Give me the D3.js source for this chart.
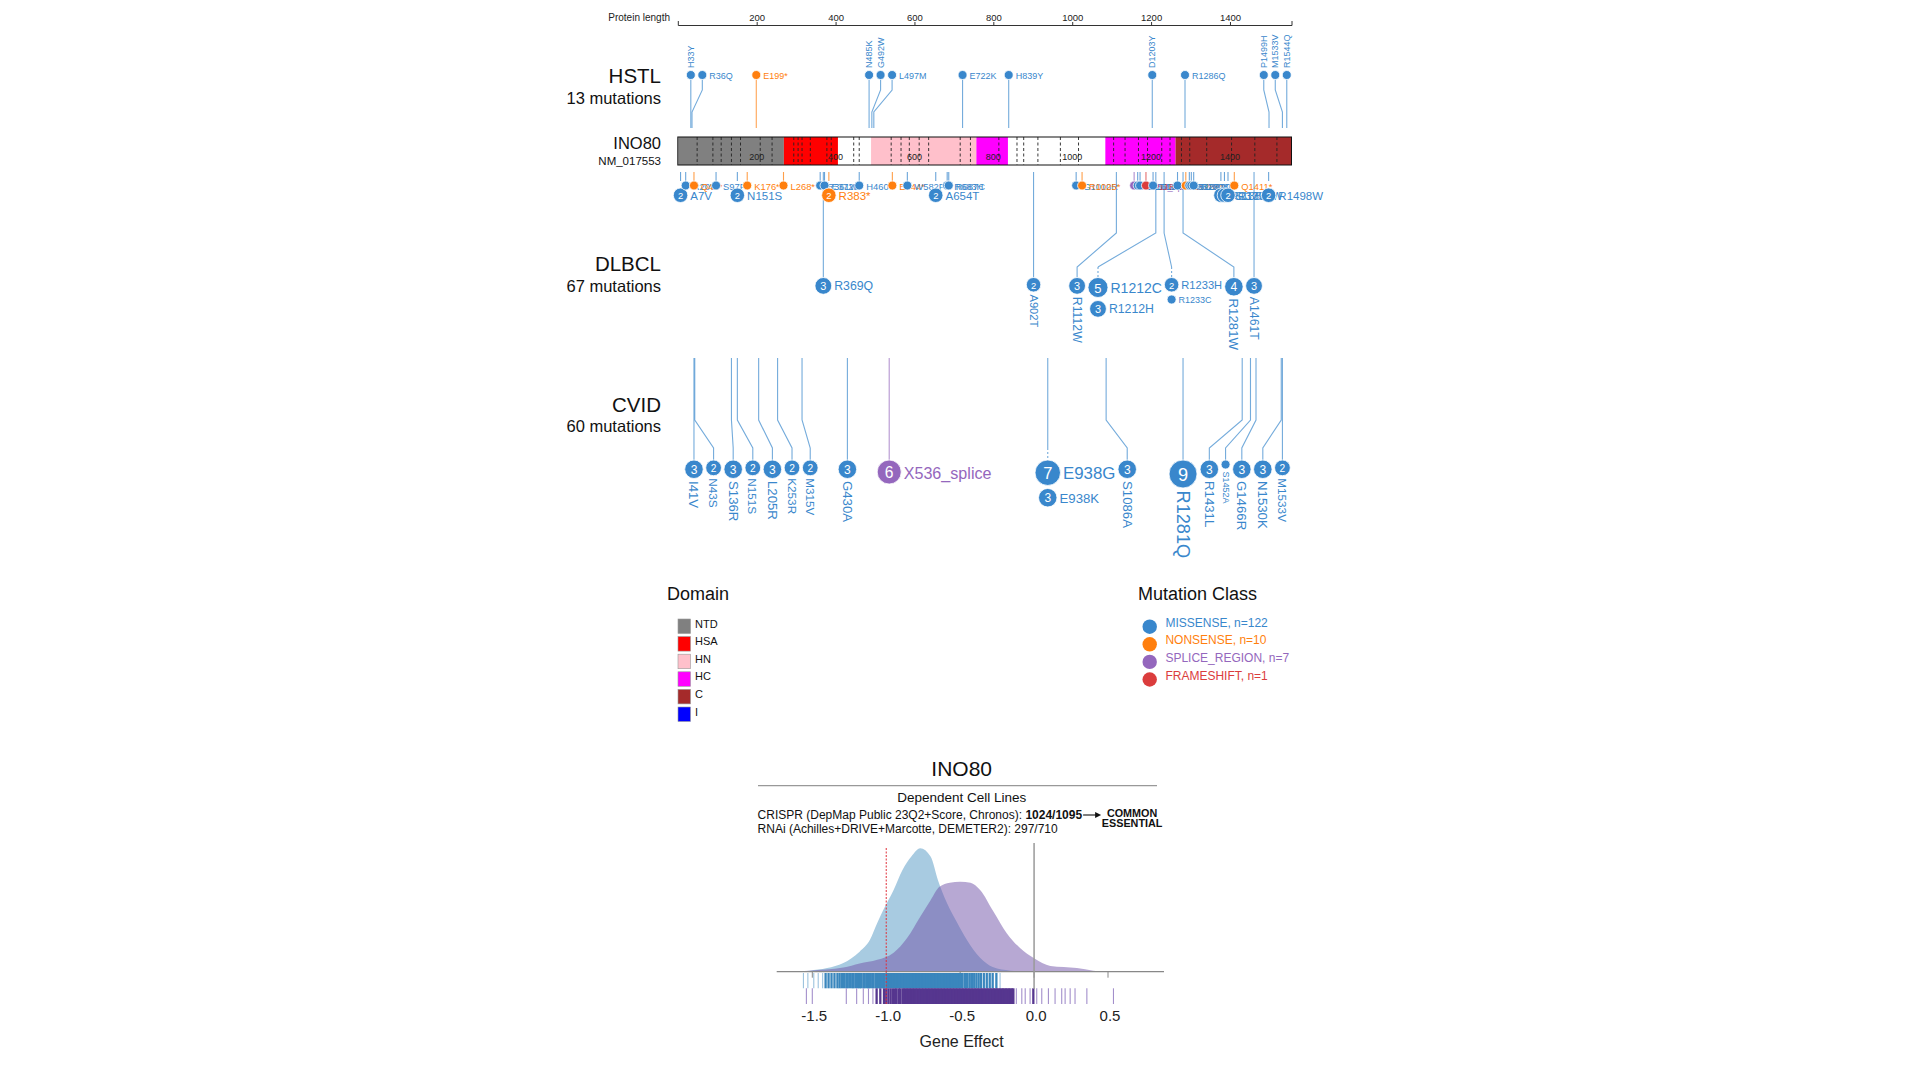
<!DOCTYPE html>
<html><head><meta charset="utf-8">
<script src="https://cdn.jsdelivr.net/npm/d3@7"></script>
<style>
body{margin:0;background:#fff;}
svg{display:block;}
text{font-family:"Liberation Sans",Arial,Helvetica,sans-serif;}
</style>
</head><body>
<svg id="c" width="1920" height="1080"></svg>
<script>
// ---------------- DATA ----------------
const proteinLength = 1556;
const axisTicks = [200, 400, 600, 800, 1000, 1200, 1400];
const domains = [["NTD",1,269],["HSA",269,406],["HN",490,757],["HC",757,837],["HC",1084,1262],["C",1262,1556]];
const domainLegend = ["NTD","HSA","HN","HC","C","I"];
const domainColors = ["#808080","#ff0000","#ffc0cb","#ff00ff","#a52a2a","#0000ff"];
const exonBoundaries = [49,89,110,136,159,209,239,294,305,315,336,378,389,446,460,541,566,587,612,636,716,742,
  814,860,877,913,970,1016,1105,1134,1168,1191,1227,1248,1277,1298,1341,1404,1463,1519];
const classNames = ["MISSENSE","NONSENSE","SPLICE_REGION","FRAMESHIFT"];
const classColors = ["#3987cc","#ff7f0e","#9467bd","#db3d3d"];
const M="MISSENSE", N="NONSENSE", S="SPLICE_REGION", F="FRAMESHIFT";

// [label, aa position, class, count, label direction]
const hstlMutations = [
 ["H33Y",33,M,1,"v"],["R36Q",36,M,1,"h"],["E199*",199,N,1,"h"],["N485K",485,M,1,"v"],
 ["G492W",492,M,1,"v"],["L497M",497,M,1,"h"],["E722K",722,M,1,"h"],["H839Y",839,M,1,"h"],
 ["D1203Y",1203,M,1,"v"],["R1286Q",1286,M,1,"h"],["P1499H",1499,M,1,"v"],["M1533V",1533,M,1,"v"],
 ["R1544Q",1544,M,1,"v"]];
const dlbclNearMutations = [
 ["A7V",7,M,2],["R20W",20,M,1],["Q41*",41,N,1],["S97F",97,M,1],["N151S",151,M,2],["K176*",176,N,1],
 ["L268*",268,N,1],["R361W",361,M,1],["E372K",372,M,1],["R383*",383,N,2],["H460Y",460,M,1],
 ["E544*",544,N,1],["W582F",582,M,1],["A654T",654,M,2],["R683H",683,M,1],["R687C",687,M,1],
 ["G1010R",1010,M,1],["R1025*",1025,N,1],["X1157_splice",1157,S,1],["R1166W",1166,M,1],
 ["D1172N",1172,M,1],["P1187fs",1187,F,1],["T1205M",1205,M,1],["R1267C",1267,M,1],["E1288*",1288,N,1],
 ["R1297Q",1297,M,1],["S1302L",1302,M,1],["R1308H",1308,M,1],["R1377C",1377,M,2],["S1386F",1386,M,2],
 ["R1395W",1395,M,2],["Q1411*",1411,N,1],["R1498W",1498,M,2]];
const dlbclMutations = [
 ["R369Q",369,M,3,"h"],["A902T",902,M,2,"v"],["R1112W",1112,M,3,"v"],["R1212C",1212,M,5,"h"],
 ["R1212H",1212,M,3,"h"],["R1233H",1233,M,2,"h"],["R1233C",1233,M,1,"h"],["R1281W",1281,M,4,"v"],
 ["A1461T",1461,M,3,"v"]];
const cvidMutations = [
 ["I41V",41,M,3,"v"],["N43S",43,M,2,"v"],["S136R",136,M,3,"v"],["N151S",151,M,2,"v"],["L205R",205,M,3,"v"],
 ["K253R",253,M,2,"v"],["M315V",315,M,2,"v"],["G430A",430,M,3,"v"],["X536_splice",536,S,6,"h"],
 ["E938G",938,M,7,"h"],["E938K",938,M,3,"h"],["S1086A",1086,M,3,"v"],["R1281Q",1281,M,9,"v"],
 ["R1431L",1431,M,3,"v"],["S1452A",1452,M,1,"v"],["G1466R",1466,M,3,"v"],["N1530K",1530,M,3,"v"],
 ["M1533V",1533,M,2,"v"]];

// gene effect density curves [gene effect, density]
const crisprDensity = [[-1.63,0],[-1.52,0.02],[-1.40,0.07],[-1.29,0.17],[-1.18,0.39],[-1.11,0.62],[-1.06,0.95],
 [-1.02,1.20],[-0.95,1.59],[-0.89,1.98],[-0.83,2.24],[-0.77,2.40],[-0.70,2.24],[-0.65,1.78],[-0.59,1.34],
 [-0.52,0.95],[-0.455,0.62],[-0.365,0.27],[-0.28,0.09],[-0.16,0.02],[-0.03,0]];
const rnaiDensity = [[-1.74,0],[-1.52,0.02],[-1.29,0.08],[-1.18,0.16],[-1.06,0.23],[-0.95,0.37],[-0.86,0.65],
 [-0.77,1.07],[-0.70,1.39],[-0.64,1.65],[-0.57,1.73],[-0.50,1.75],[-0.43,1.73],[-0.365,1.59],[-0.275,1.17],
 [-0.185,0.75],[-0.095,0.46],[0.0,0.26],[0.11,0.11],[0.29,0.07],[0.40,0.02],[0.51,0]];
const crisprRug = [-1.56,-1.53,-1.49,-1.46,-1.43,-1.41,-1.39,-1.37,-1.35,-1.33,-1.315,-1.30,-1.285,-1.27,-1.26,
 -1.245,-1.23,-1.22,-1.205,-1.19,-1.18,-1.17,-1.155,-1.145,-1.13,-1.12,-1.11,-1.095,-1.085,-1.07,-1.06,-1.05,
 -1.04,-1.03,-1.02,-1.01,-0.995,-0.985,-0.975,-0.965,-0.955,-0.945,-0.935,-0.925,-0.915,-0.905,-0.895,-0.885,
 -0.875,-0.865,-0.855,-0.845,-0.835,-0.825,-0.815,-0.805,-0.795,-0.785,-0.775,-0.765,-0.755,-0.745,-0.735,
 -0.725,-0.715,-0.705,-0.695,-0.685,-0.675,-0.665,-0.655,-0.645,-0.635,-0.625,-0.615,-0.605,-0.595,-0.585,
 -0.575,-0.565,-0.555,-0.545,-0.535,-0.525,-0.515,-0.505,-0.495,-0.485,-0.47,-0.46,-0.45,-0.435,-0.42,-0.405,
 -0.39,-0.375,-0.36,-0.34,-0.32,-0.30,-0.28,-0.255,-0.23];
const rnaiRug = [-1.54,-1.50,-1.27,-1.20,-1.155,-1.12,-1.09,-1.065,-1.04,-1.015,-1.0,-0.985,-0.97,-0.955,-0.94,
 -0.93,-0.915,-0.905,-0.89,-0.88,-0.87,-0.86,-0.85,-0.84,-0.83,-0.82,-0.81,-0.80,-0.79,-0.78,-0.77,-0.76,-0.75,
 -0.74,-0.73,-0.72,-0.71,-0.70,-0.69,-0.68,-0.67,-0.66,-0.65,-0.64,-0.63,-0.62,-0.61,-0.60,-0.59,-0.58,-0.57,
 -0.56,-0.55,-0.54,-0.53,-0.52,-0.51,-0.50,-0.49,-0.48,-0.47,-0.46,-0.45,-0.44,-0.43,-0.42,-0.41,-0.40,-0.39,
 -0.38,-0.37,-0.36,-0.35,-0.34,-0.33,-0.32,-0.31,-0.30,-0.29,-0.28,-0.27,-0.26,-0.25,-0.24,-0.23,-0.22,-0.21,
 -0.20,-0.19,-0.18,-0.17,-0.16,-0.15,-0.14,-0.12,-0.083,-0.06,-0.027,-0.005,0.018,0.052,0.097,0.142,0.187,
 0.21,0.244,0.277,0.357,0.537];
const effectTicks = [-1.5,-1.0,-0.5,0.0,0.5];
const crisprText = ["CRISPR (DepMap Public 23Q2+Score, Chronos): ","1024/1095"];
const rnaiText = "RNAi (Achilles+DRIVE+Marcotte, DEMETER2): 297/710";

// ---------------- SETUP ----------------
const svg = d3.select("#c");
const FONT = '"Liberation Sans", Arial, sans-serif';
const ctx = document.createElement("canvas").getContext("2d");
function textW(s, fs, w){ ctx.font = `${w||"normal"} ${fs}px ${FONT}`; return ctx.measureText(s).width; }
const color = d3.scaleOrdinal().domain(classNames).range(classColors);
const domColor = d3.scaleOrdinal().domain(domainLegend).range(domainColors);

const x = d3.scaleLinear().domain([0, proteinLength]).range([677.8, 1291.5]);
const xEnd = x(proteinLength);
const labelX = 661;

// top axis
const axG = svg.append("g").attr("transform","translate(0,25)")
  .call(d3.axisTop(x).tickValues(axisTicks).tickFormat(d3.format("d")).tickSize(3).tickSizeOuter(4).tickPadding(1));
axG.select(".domain").attr("stroke","#333");
axG.selectAll(".tick line").attr("stroke","#333");
axG.selectAll(".tick text").attr("font-size",9.5).attr("fill","#222").attr("font-family",FONT);
svg.append("text").attr("x",670).attr("y",17).attr("text-anchor","end").attr("dominant-baseline","central")
  .attr("font-size",10).attr("fill","#222").text("Protein length");

// ---------------- helpers ----------------
function radiusScale(maxC){
  const rMax = 5 + maxC;
  return c => c<=1 ? 4.5 : 4.5 + (rMax-4.5)*Math.sqrt((c-1)/Math.max(1,maxC-1));
}
const labelFont = (c,r) => c===1 ? 9 : 3.5 + 1.05*r;
function makeGroups(muts, rS){
  return d3.groups(muts, d=>d[1]).sort((a,b)=>a[0]-b[0]).map(([pos,arr])=>{
    arr = arr.slice().sort((a,b)=>b[3]-a[3]);
    const items = arr.map(m=>{
      const c=m[3], r=rS(c), fs=labelFont(c,r);
      return {name:m[0],pos:m[1],cls:m[2],count:c,dir:m[4]||"h",r,fs,lw:textW(m[0],fs)};
    });
    return {pos, ax:x(pos), items, r:items[0].r, h:items[0].dir==="h",
            lw:d3.max(items,d=>d.dir==="h"?d.lw:0)};
  });
}
function layout(groups){
  const gap=2.5, lg=2.5;
  const sep=(a,b)=>a.r+(a.h?lg+a.lw:0)+gap+b.r;
  groups.forEach((g,i)=>{ g.x = i ? Math.max(g.ax, groups[i-1].x+sep(groups[i-1],g)) : g.ax; });
  const n=groups.length, last=groups[n-1];
  last.x = Math.min(last.ax, xEnd-last.r);
  for(let i=n-2;i>=0;i--) groups[i].x = Math.min(groups[i].x, groups[i+1].x-sep(groups[i],groups[i+1]));
}
function disc(layer, cx, cy, it){
  layer.append("circle").attr("cx",cx).attr("cy",cy).attr("r",it.r)
    .attr("fill",color(it.cls)).attr("stroke","#fff").attr("stroke-width",0.8);
  if(it.count>1) layer.append("text").attr("x",cx).attr("y",cy+0.5).attr("text-anchor","middle")
    .attr("dominant-baseline","central").attr("font-size",it.r*1.3).attr("fill","#fff").text(it.count);
}
function drawStems(layer, groups, o){
  groups.forEach(g=>{
    const col=color(g.items[0].cls), multi=g.items.length>1;
    layer.append("path").attr("d",`M${g.ax},${o.top}V${o.b1}L${g.x},${o.b2}`+(multi?"":`V${o.edge}`))
      .attr("fill","none").attr("stroke",col).attr("stroke-opacity",0.7).attr("stroke-width",1.1);
    if(multi) layer.append("path").attr("d",`M${g.x},${o.b2}V${o.edge}`).attr("fill","none")
      .attr("stroke",col).attr("stroke-opacity",0.7).attr("stroke-width",1.1).attr("stroke-dasharray","2,2");
  });
}
function drawDiscs(layer, groups, o){
  groups.forEach(g=>{
    let pcy=0, pr=0;
    g.items.forEach((it,k)=>{
      const cy = k===0 ? (o.up ? o.edge-it.r : o.edge+it.r) : (o.up ? pcy-pr-3-it.r : pcy+pr+3+it.r);
      disc(layer, g.x, cy, it);
      const t = layer.append("text").attr("font-size",it.fs).attr("fill",color(it.cls))
        .attr("dominant-baseline","central").text(it.name);
      if(it.dir==="h") t.attr("x",g.x+it.r+2.5).attr("y",cy+0.5);
      else if(o.up) t.attr("transform",`translate(${g.x},${cy-it.r-2.5}) rotate(-90)`);
      else t.attr("transform",`translate(${g.x},${cy+it.r+2.5}) rotate(90)`);
      pcy=cy; pr=it.r;
    });
  });
}
function trackLabel(name, sub, cy, fs1, fs2){
  svg.append("text").attr("x",labelX).attr("y",cy).attr("text-anchor","end").attr("dominant-baseline","central")
    .attr("font-size",fs1).attr("fill","#111").text(name);
  svg.append("text").attr("x",labelX).attr("y",cy+22).attr("text-anchor","end").attr("dominant-baseline","central")
    .attr("font-size",fs2).attr("fill","#111").text(sub);
}

// ---------------- HSTL ----------------
const hstlR = radiusScale(d3.max(hstlMutations,d=>d[3]));
const hstlG = makeGroups(hstlMutations, hstlR); layout(hstlG);
const hL = svg.append("g");
const hO = {top:128,b1:112,b2:90,edge:79.5,up:true};
drawStems(hL, hstlG, hO); drawDiscs(hL, hstlG, hO);
trackLabel("HSTL", d3.sum(hstlMutations,d=>d[3])+" mutations", 75.5, 20.5, 16.5);

// ---------------- protein bar ----------------
const barY=137, barH=28;
const bar = svg.append("g");
bar.append("rect").attr("x",x(0)).attr("y",barY).attr("width",xEnd-x(0)).attr("height",barH).attr("fill","#fff");
bar.selectAll("rect.dom").data(domains).join("rect").attr("class","dom")
  .attr("x",d=>x(d[1])).attr("y",barY).attr("width",d=>x(d[2])-x(d[1])).attr("height",barH)
  .attr("fill",d=>domColor(d[0]));
bar.selectAll("line.ex").data(exonBoundaries).join("line").attr("class","ex")
  .attr("x1",d=>x(d)).attr("x2",d=>x(d)).attr("y1",barY).attr("y2",barY+barH)
  .attr("stroke","#222").attr("stroke-width",0.9).attr("stroke-dasharray","3,2.5");
bar.selectAll("text.bl").data(axisTicks).join("text").attr("class","bl")
  .attr("x",d=>x(d)).attr("y",barY+19.5).attr("text-anchor","middle").attr("dominant-baseline","central")
  .attr("font-size",9).attr("fill","#222").text(d=>d);
bar.append("rect").attr("x",x(0)).attr("y",barY).attr("width",xEnd-x(0)).attr("height",barH)
  .attr("fill","none").attr("stroke","#111").attr("stroke-width",1);
svg.append("text").attr("x",labelX).attr("y",143).attr("text-anchor","end").attr("dominant-baseline","central")
  .attr("font-size",16.5).attr("fill","#111").text("INO80");
svg.append("text").attr("x",labelX).attr("y",160.5).attr("text-anchor","end").attr("dominant-baseline","central")
  .attr("font-size",11.5).attr("fill","#111").text("NM_017553");

// ---------------- DLBCL ----------------
const dlR = radiusScale(d3.max(dlbclMutations.concat(dlbclNearMutations),d=>d[3]));
const dlG = makeGroups(dlbclMutations, dlR); layout(dlG);
const dL = svg.append("g");
const dO = {top:172,b1:233,b2:267,edge:277.5,up:false};
drawStems(dL, dlG, dO);
const near = dlbclNearMutations.map(m=>{
  const c=m[3], r=dlR(c);
  return {name:m[0],pos:m[1],cls:m[2],count:c,r,fs:labelFont(c,r)+0.4,ax:x(m[1])};
}).sort((a,b)=>a.pos-b.pos);
near.forEach(it=>{
  dL.append("line").attr("x1",it.ax).attr("x2",it.ax).attr("y1",172).attr("y2",181)
    .attr("stroke",color(it.cls)).attr("stroke-opacity",0.75).attr("stroke-width",1.1);
});
near.forEach(it=>{
  const cy = 181+it.r+(it.count>1?7:0);
  disc(dL, it.ax, cy, it);
  dL.append("text").attr("x",it.ax+it.r+2.5).attr("y",cy+0.5).attr("dominant-baseline","central")
    .attr("font-size",it.fs).attr("fill",color(it.cls)).text(it.name);
});
drawDiscs(dL, dlG, dO);
trackLabel("DLBCL", (d3.sum(dlbclMutations,d=>d[3])+d3.sum(dlbclNearMutations,d=>d[3]))+" mutations", 263.5, 20.5, 16.5);

// ---------------- CVID ----------------
const cvR = radiusScale(d3.max(cvidMutations,d=>d[3]));
const cvG = makeGroups(cvidMutations, cvR); layout(cvG);
const cL = svg.append("g");
const cO = {top:358,b1:420,b2:448,edge:460,up:false};
drawStems(cL, cvG, cO); drawDiscs(cL, cvG, cO);
trackLabel("CVID", d3.sum(cvidMutations,d=>d[3])+" mutations", 404, 20.5, 16.5);

// ---------------- legends ----------------
svg.append("text").attr("x",667).attr("y",594).attr("dominant-baseline","central").attr("font-size",18)
  .attr("fill","#111").text("Domain");
const dLeg = svg.append("g");
domainLegend.forEach((d,i)=>{
  const y0=619+i*17.6;
  dLeg.append("rect").attr("x",678).attr("y",y0).attr("width",12.5).attr("height",14.5)
    .attr("fill",domColor(d)).attr("stroke","#999").attr("stroke-width",0.6);
  dLeg.append("text").attr("x",695).attr("y",y0+4.5).attr("dominant-baseline","central")
    .attr("font-size",11).attr("fill","#111").text(d);
});
svg.append("text").attr("x",1138).attr("y",594).attr("dominant-baseline","central").attr("font-size",18)
  .attr("fill","#111").text("Mutation Class");
const allMuts = hstlMutations.concat(dlbclNearMutations, dlbclMutations, cvidMutations);
const classCounts = classNames.map(c=>d3.sum(allMuts.filter(m=>m[2]===c), m=>m[3]));
classNames.forEach((c,i)=>{
  const cy=626.7+i*17.6;
  svg.append("circle").attr("cx",1149.7).attr("cy",cy).attr("r",7.2).attr("fill",color(c));
  svg.append("text").attr("x",1165.4).attr("y",cy-4).attr("dominant-baseline","central")
    .attr("font-size",12).attr("fill",color(c)).text(`${c}, n=${classCounts[i]}`);
});

// ---------------- dependency chart ----------------
const ex = d3.scaleLinear().domain([-1.5,0.5]).range([812.3,1108]);
const ey = d3.scaleLinear().domain([0,2.4]).range([971.7,848.3]);
const cx0 = 961.7;
svg.append("text").attr("x",cx0).attr("y",768).attr("text-anchor","middle").attr("dominant-baseline","central")
  .attr("font-size",21).attr("fill","#111").text("INO80");
svg.append("line").attr("x1",758).attr("x2",1157).attr("y1",785.7).attr("y2",785.7).attr("stroke","#999").attr("stroke-width",1.2);
svg.append("text").attr("x",cx0).attr("y",797.5).attr("text-anchor","middle").attr("dominant-baseline","central")
  .attr("font-size",13.5).attr("fill","#111").text("Dependent Cell Lines");
const ct = svg.append("text").attr("x",757.6).attr("y",815).attr("dominant-baseline","central")
  .attr("font-size",12).attr("fill","#111");
ct.append("tspan").text(crisprText[0]);
ct.append("tspan").attr("font-weight","bold").text(crisprText[1]);
const ctEnd = 757.6 + ct.node().getComputedTextLength();
svg.append("line").attr("x1",ctEnd+1).attr("x2",ctEnd+15).attr("y1",815).attr("y2",815).attr("stroke","#111").attr("stroke-width",1.1);
svg.append("path").attr("d",`M${ctEnd+19},815L${ctEnd+13},812L${ctEnd+13},818Z`).attr("fill","#111");
["COMMON","ESSENTIAL"].forEach((s,i)=>svg.append("text").attr("x",ctEnd+50).attr("y",812.7+i*10.6)
  .attr("text-anchor","middle").attr("dominant-baseline","central").attr("font-size",10.8)
  .attr("font-weight","bold").attr("fill","#111").text(s));
svg.append("text").attr("x",757.6).attr("y",829).attr("dominant-baseline","central")
  .attr("font-size",12).attr("fill","#111").text(rnaiText);

const area = d3.area().x(d=>ex(d[0])).y0(ey(0)).y1(d=>ey(d[1])).curve(d3.curveMonotoneX);
svg.append("path").datum(crisprDensity).attr("d",area).attr("fill","#a8cbe1");
svg.append("path").datum(rnaiDensity).attr("d",area).attr("fill","#6f52a8").attr("fill-opacity",0.5);
svg.append("line").attr("x1",776.7).attr("x2",1164).attr("y1",ey(0)).attr("y2",ey(0)).attr("stroke","#888").attr("stroke-width",1.2);
svg.selectAll("line.etk").data(effectTicks).join("line").attr("class","etk")
  .attr("x1",d=>ex(d)).attr("x2",d=>ex(d)).attr("y1",ey(0)).attr("y2",ey(0)+6).attr("stroke","#888");
function rug(vals, y1, y2, dark, light){
  svg.append("g").selectAll("line").data(vals).join("line")
    .attr("x1",d=>ex(d)).attr("x2",d=>ex(d)).attr("y1",y1).attr("y2",y2)
    .each(function(d){
      const dense = vals.filter(v=>Math.abs(v-d)<=0.026).length>=3;
      d3.select(this).attr("stroke",dense?dark:light).attr("stroke-width",dense?2.3:1.1);
    });
}
rug(crisprRug, 973, 988.3, "#3a86bd", "#9cc2de");
rug(rnaiRug, 988.3, 1004, "#56368f", "#a38fcb");
svg.append("line").attr("x1",ex(0)).attr("x2",ex(0)).attr("y1",843).attr("y2",989).attr("stroke","#999").attr("stroke-width",1.5);
svg.append("line").attr("x1",ex(-1)).attr("x2",ex(-1)).attr("y1",848).attr("y2",1004)
  .attr("stroke","#e0303a").attr("stroke-width",1).attr("stroke-dasharray","2,1.5");
svg.selectAll("text.etl").data(effectTicks).join("text").attr("class","etl")
  .attr("x",d=>ex(d)+2).attr("y",1015).attr("text-anchor","middle").attr("dominant-baseline","central")
  .attr("font-size",15).attr("fill","#222").text(d=>d.toFixed(1));
svg.append("text").attr("x",cx0).attr("y",1041).attr("text-anchor","middle").attr("dominant-baseline","central")
  .attr("font-size",16).attr("fill","#222").text("Gene Effect");
</script>
</body></html>
